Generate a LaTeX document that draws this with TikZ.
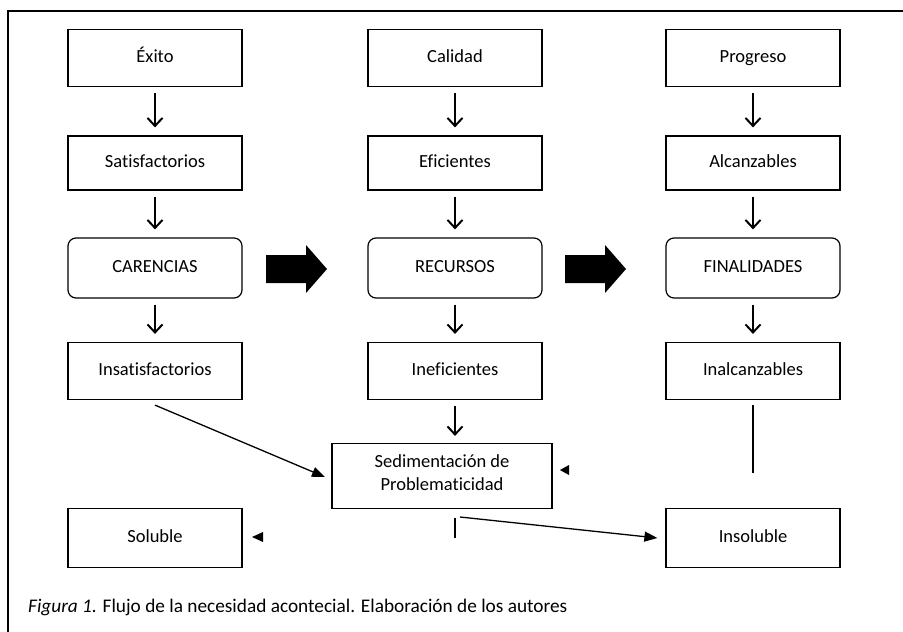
\documentclass[tikz,border=0pt]{standalone}
\usepackage{fontspec}
\setmainfont{Carlito}[Ligatures=NoCommon]
\usepackage{tikz}
\usetikzlibrary{arrows.meta}

\begin{document}
\begin{tikzpicture}[x=1pt, y=-1pt,
    every node/.style={font=\fontsize{18.5}{23}\selectfont},
    box/.style={draw, line width=1.2pt, minimum width=174pt, minimum height=57pt, inner sep=2pt, execute at begin node=\strut},
    roundbox/.style={box, rounded corners=8pt, minimum height=60pt},
    down/.style={line width=2pt, -{Straight Barb[length=8pt, width=15pt, line width=2pt]}},
    thin/.style={line width=1.3pt, -{Triangle[length=13pt, width=10pt]}}]
    \useasboundingbox (0,0) rectangle (903,632);
    \draw[line width=1.4pt] (903,11) -- (8,11) -- (8,632);
    % columns
    \node[box] (exito) at (155,58) {Éxito};
    \node[box] (calidad) at (455,58) {Calidad};
    \node[box] (progreso) at (753,58) {Progreso};
    \node[box, minimum height=54pt] (satis) at (155,163) {Satisfactorios};
    \node[box, minimum height=54pt] (efic) at (455,163) {Eficientes};
    \node[box, minimum height=54pt] (alcan) at (753,163) {Alcanzables};
    \node[roundbox] (carenc) at (155,268) {CARENCIAS};
    \node[roundbox] (recur) at (455,268) {RECURSOS};
    \node[roundbox] (final) at (753,268) {FINALIDADES};
    \node[box] (insat) at (155,371) {Insatisfactorios};
    \node[box] (inefic) at (455,371) {Ineficientes};
    \node[box] (inalc) at (753,371) {Inalcanzables};
    \node[box, minimum width=220pt, minimum height=65pt, align=center] (sedim) at (442,476) {Sedimentación de\\Problematicidad};
    \node[box, minimum height=59pt] (soluble) at (155,538) {Soluble};
    \node[box, minimum height=59pt] (insoluble) at (753,538) {Insoluble};
    % arrows down
    \foreach \a/\b in {exito/satis, calidad/efic, progreso/alcan, satis/carenc, efic/recur, alcan/final, carenc/insat, recur/inefic, final/inalc}
        \draw[down] ([yshift=-6pt]\a.south) -- ([yshift=8pt]\b.north);
    \draw[down] ([yshift=-6pt]inefic.south) -- ([yshift=7pt]inefic.south |- sedim.north);
    % block arrows
    \fill (266,255) -- (306,255) -- (306,245) -- (327,269) -- (306,293) -- (306,283) -- (266,283) -- cycle;
    \fill (565,255) -- (605,255) -- (605,245) -- (626,269) -- (605,293) -- (605,283) -- (565,283) -- cycle;
    % lower connectors
    \coordinate (tick) at (455,518);
    \coordinate (split) at (460,517);
    \draw[thin] ([yshift=-5pt]insat.south) -- (325,477);
    \draw[line width=1.3pt] (tick) -- ++(0,20);
    \draw[thin] (split) -- ([xshift=-8pt]insoluble.west);
    \draw[line width=1.3pt] ([yshift=-5pt]inalc.south) -- ++(0,68);
    \fill (252,537) -- (263,532) -- (263,542) -- cycle;
    \fill (560,470) -- (569,465) -- (569,475) -- cycle;
    % caption
    \node[anchor=west, inner sep=0pt, font=\fontsize{19.3}{23}\selectfont] (caption) at (28,607) {\textit{Figura 1.} Flujo de la necesidad acontecial. Elaboración de los autores};
\end{tikzpicture}
\end{document}
